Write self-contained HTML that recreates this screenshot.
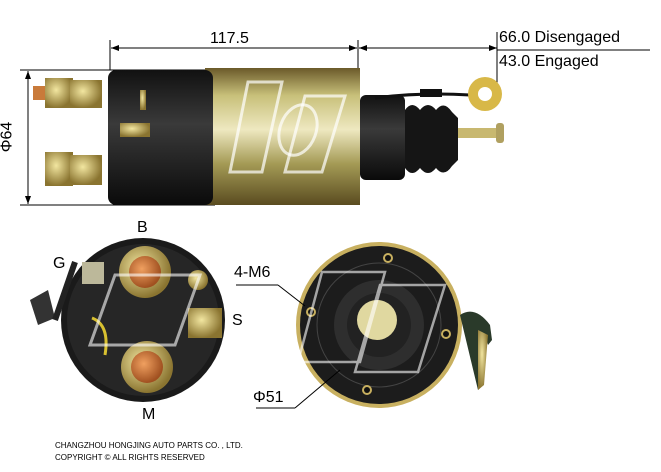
<!DOCTYPE html>
<html><head><meta charset="utf-8"><style>
html,body{margin:0;padding:0;background:#fff;}
body{width:661px;height:472px;position:relative;overflow:hidden;font-family:"Liberation Sans",sans-serif;}
.t{position:absolute;color:#000;font-size:16px;white-space:nowrap;}
.f{position:absolute;font-size:8px;color:#000;white-space:nowrap;left:55px;}
</style></head><body>
<svg width="661" height="472" style="position:absolute;left:0;top:0">
<defs>
<linearGradient id="gold" x1="0" y1="0" x2="0" y2="1">
<stop offset="0" stop-color="#6b5a2a"/><stop offset="0.2" stop-color="#c8c07a"/><stop offset="0.45" stop-color="#eee8c0"/><stop offset="0.7" stop-color="#a49a55"/><stop offset="1" stop-color="#5a4c20"/></linearGradient>
<linearGradient id="blk" x1="0" y1="0" x2="0" y2="1">
<stop offset="0" stop-color="#111"/><stop offset="0.4" stop-color="#3a3a3a"/><stop offset="1" stop-color="#0a0a0a"/></linearGradient>
<radialGradient id="cu" cx="0.4" cy="0.4" r="0.6"><stop offset="0" stop-color="#f0a060"/><stop offset="1" stop-color="#a05020"/></radialGradient>
<radialGradient id="brass" cx="0.4" cy="0.4" r="0.6"><stop offset="0" stop-color="#f2e6a0"/><stop offset="1" stop-color="#8a7430"/></radialGradient>
<marker id="a" markerWidth="8" markerHeight="8" refX="8" refY="4" orient="auto"><path d="M0,1 L8,4 L0,7z" fill="#000"/></marker>
<marker id="b" markerWidth="8" markerHeight="8" refX="0" refY="4" orient="auto"><path d="M8,1 L0,4 L8,7z" fill="#000"/></marker>
</defs>
<line x1="110" y1="40" x2="110" y2="70" stroke="#000"/>
<line x1="358" y1="40" x2="358" y2="70" stroke="#000"/>
<line x1="111" y1="48" x2="357" y2="48" stroke="#000" marker-start="url(#b)" marker-end="url(#a)"/>
<line x1="359" y1="48" x2="497" y2="48" stroke="#000" marker-start="url(#b)" marker-end="url(#a)"/>
<line x1="497" y1="32" x2="497" y2="100" stroke="#000"/>
<line x1="497" y1="50" x2="650" y2="50" stroke="#000"/>
<line x1="20" y1="70" x2="215" y2="70" stroke="#000"/>
<line x1="20" y1="205" x2="215" y2="205" stroke="#000"/>
<line x1="28" y1="71" x2="28" y2="204" stroke="#000" marker-start="url(#b)" marker-end="url(#a)"/>
<rect x="205" y="68" width="155" height="137" fill="url(#gold)"/>
<rect x="108" y="70" width="105" height="135" rx="8" fill="url(#blk)"/>
<rect x="360" y="95" width="45" height="85" rx="6" fill="url(#blk)"/>
<path d="M405,110 Q412,100 420,110 Q428,100 436,110 Q444,100 452,112 L458,118 L458,160 L452,166 Q444,178 436,168 Q428,178 420,168 Q412,178 405,168z" fill="#151515"/>
<rect x="458" y="128" width="45" height="10" fill="#c8b870"/>
<rect x="496" y="123" width="8" height="20" rx="3" fill="#b0a060"/>
<path d="M375,98 Q420,92 470,95" fill="none" stroke="#111" stroke-width="3"/>
<rect x="420" y="89" width="22" height="8" fill="#111"/>
<circle cx="485" cy="94" r="17" fill="#d8b848"/><circle cx="485" cy="94" r="7" fill="#fff"/>
<rect x="33" y="86" width="20" height="14" fill="#c97a3a"/>
<rect x="45" y="78" width="28" height="30" fill="url(#brass)"/>
<rect x="70" y="80" width="32" height="28" fill="url(#brass)"/>
<rect x="45" y="152" width="28" height="34" fill="url(#brass)"/>
<rect x="70" y="155" width="32" height="30" fill="url(#brass)"/>
<rect x="120" y="123" width="30" height="14" fill="url(#brass)"/>
<rect x="140" y="90" width="6" height="20" fill="url(#brass)"/>
<path d="M230,172 L248,82 L282,82 L262,172z M285,172 L305,96 L345,96 L322,172z" fill="none" stroke="#fff" stroke-width="3" opacity="0.7"/>
<ellipse cx="298" cy="130" rx="18" ry="26" fill="none" stroke="#fff" stroke-width="3" opacity="0.7" transform="rotate(20 298 130)"/>
<circle cx="143" cy="320" r="82" fill="#1a1a1a"/>
<circle cx="143" cy="320" r="76" fill="#262626"/>
<path d="M48,290 L30,300 L38,325 L55,318z" fill="#333"/>
<path d="M75,262 L55,320" stroke="#222" stroke-width="6"/>
<rect x="82" y="262" width="22" height="22" fill="#bcb89a"/>
<circle cx="145" cy="272" r="26" fill="url(#brass)"/><circle cx="145" cy="272" r="16" fill="url(#cu)"/>
<circle cx="147" cy="367" r="26" fill="url(#brass)"/><circle cx="147" cy="367" r="16" fill="url(#cu)"/>
<rect x="188" y="308" width="34" height="30" fill="url(#brass)"/>
<circle cx="198" cy="280" r="10" fill="url(#brass)"/>
<path d="M92,318 Q110,325 105,355" fill="none" stroke="#d8c030" stroke-width="3"/>
<path d="M90,345 L115,275 L200,275 L175,345z" fill="none" stroke="#fff" stroke-width="3" opacity="0.6"/>
<circle cx="379" cy="325" r="83" fill="#c8b060"/>
<circle cx="379" cy="325" r="79" fill="#1c1c1c"/>
<circle cx="379" cy="325" r="62" fill="none" stroke="#444" stroke-width="1"/>
<circle cx="379" cy="325" r="45" fill="#2e2e2e"/>
<circle cx="379" cy="325" r="32" fill="#222"/>
<circle cx="377" cy="320" r="20" fill="#e0d8a0"/>
<circle cx="311" cy="312" r="5" fill="#c8b060"/><circle cx="446" cy="334" r="5" fill="#c8b060"/>
<circle cx="388" cy="258" r="5" fill="#c8b060"/><circle cx="367" cy="390" r="5" fill="#c8b060"/>
<circle cx="311" cy="312" r="3" fill="#111"/><circle cx="446" cy="334" r="3" fill="#111"/>
<circle cx="388" cy="258" r="3" fill="#111"/><circle cx="367" cy="390" r="3" fill="#111"/>
<path d="M460,315 Q475,305 490,325 L492,340 L488,345 L485,335 L483,385 L478,390z" fill="#2a3a2a"/>
<path d="M478,330 L488,335 L484,385 L478,390z" fill="url(#brass)"/>
<path d="M298,362 L322,272 L385,272 L360,362z M355,372 L380,285 L445,285 L418,372z" fill="none" stroke="#fff" stroke-width="2.5" opacity="0.6"/>
<line x1="236" y1="285" x2="278" y2="285" stroke="#000"/>
<line x1="278" y1="285" x2="305" y2="306" stroke="#000"/>
<line x1="256" y1="408" x2="295" y2="408" stroke="#000"/>
<line x1="295" y1="408" x2="340" y2="370" stroke="#000"/>
</svg>
<div class="t" style="left:210px;top:30px">117.5</div>
<div class="t" style="left:499px;top:29px">66.0 Disengaged</div>
<div class="t" style="left:499px;top:53px">43.0 Engaged</div>
<div class="t" style="left:-8px;top:128px;transform:rotate(-90deg)">Φ64</div>
<div class="t" style="left:137px;top:219px">B</div>
<div class="t" style="left:53px;top:255px">G</div>
<div class="t" style="left:232px;top:312px">S</div>
<div class="t" style="left:142px;top:406px">M</div>
<div class="t" style="left:234px;top:264px">4-M6</div>
<div class="t" style="left:253px;top:389px">Φ51</div>
<div class="f" style="top:441px">CHANGZHOU HONGJING AUTO PARTS CO. , LTD.</div>
<div class="f" style="top:453px">COPYRIGHT © ALL RIGHTS RESERVED</div>
</body></html>
